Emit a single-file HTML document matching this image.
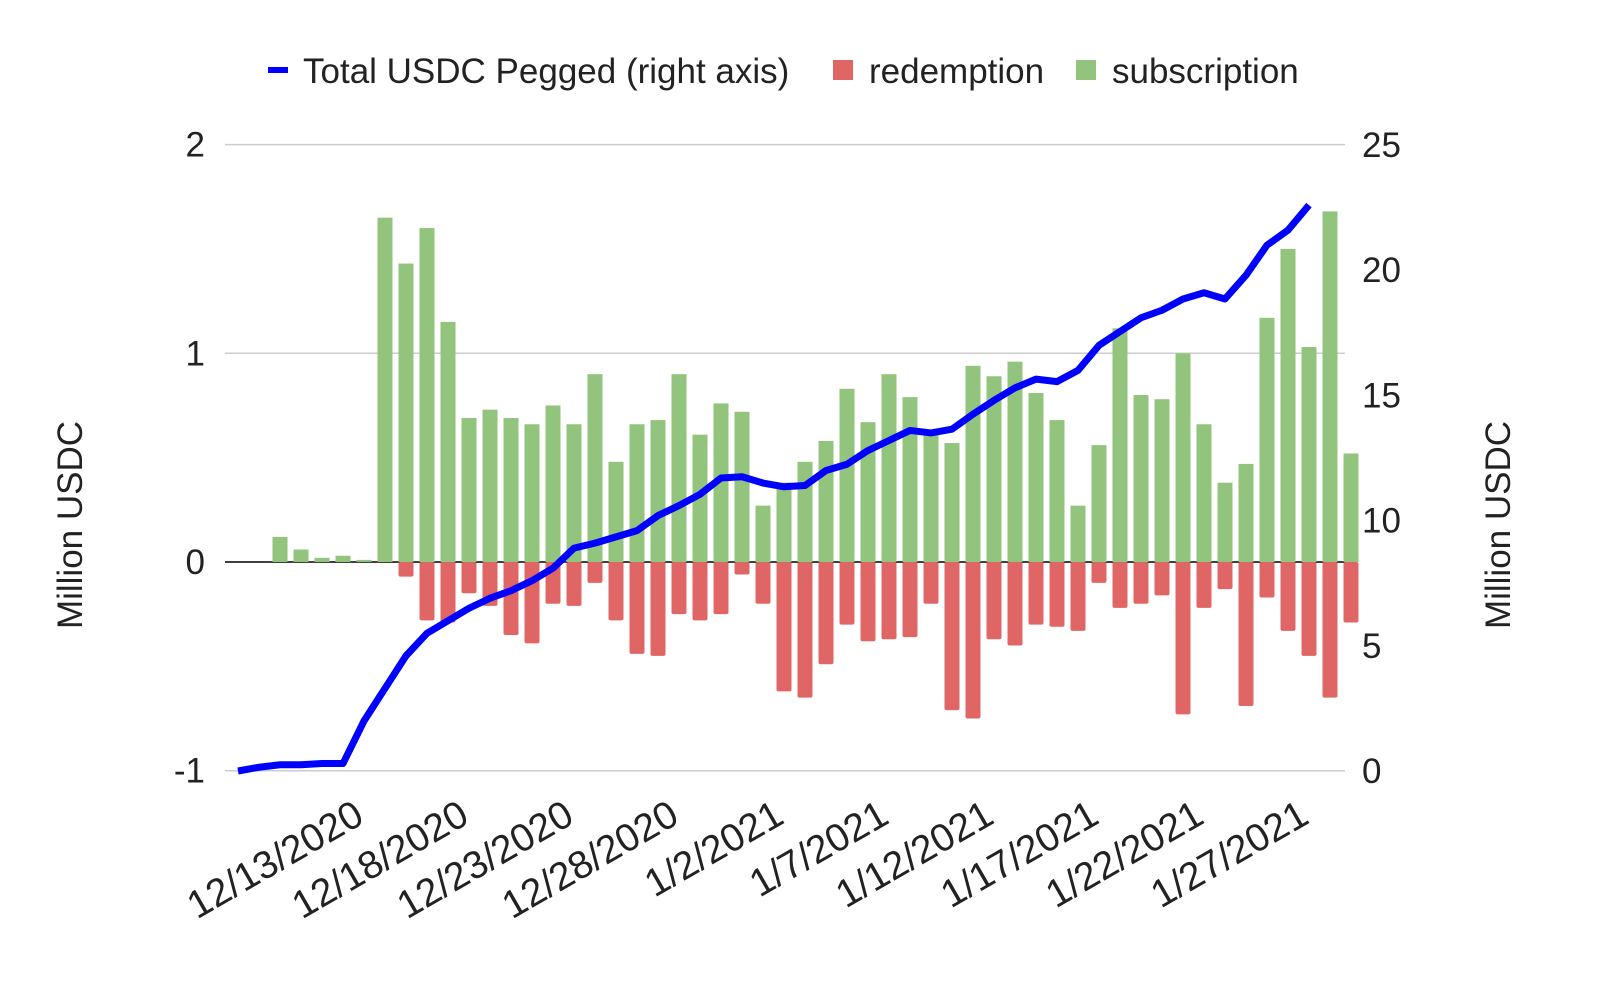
<!DOCTYPE html>
<html><head><meta charset="utf-8"><style>
html,body{margin:0;padding:0;background:#fff;}
svg{display:block;font-family:"Liberation Sans",Arial,sans-serif;}
</style></head><body>
<svg id="chart" width="1600" height="992" viewBox="0 0 1600 992" xmlns="http://www.w3.org/2000/svg">
<g>
  <rect x="268" y="67" width="20" height="6" fill="#0000ff"/>
  <text x="303" y="83" font-size="35" fill="#222">Total USDC Pegged (right axis)</text>
  <rect x="833" y="60" width="20" height="20" fill="#e06666"/>
  <text x="869" y="83" font-size="35" fill="#222">redemption</text>
  <rect x="1076" y="60" width="20" height="20" fill="#93c47d"/>
  <text x="1112" y="83" font-size="35" fill="#222">subscription</text>
</g>
<text transform="translate(82,525) rotate(-90)" text-anchor="middle" font-size="35" fill="#222">Million USDC</text>
<text transform="translate(1510,525) rotate(-90)" text-anchor="middle" font-size="35" fill="#222">Million USDC</text>
<g id="grid"></g><g id="bars"></g><g id="line"></g><g id="axes"></g>
</svg>
<script>
const dates = [];
(function(){const d0=new Date(2020,11,7);for(let i=0;i<54;i++){const d=new Date(d0.getTime());d.setDate(d0.getDate()+i);dates.push((d.getMonth()+1)+'/'+d.getDate()+'/'+d.getFullYear());}})();
const subscription = [0,0.12,0.06,0.02,0.03,0.01,1.65,1.43,1.6,1.15,0.69,0.73,0.69,0.66,0.75,0.66,0.9,0.48,0.66,0.68,0.9,0.61,0.76,0.72,0.27,0.38,0.48,0.58,0.83,0.67,0.9,0.79,0.62,0.57,0.94,0.89,0.96,0.81,0.68,0.27,0.56,1.12,0.8,0.78,1.0,0.66,0.38,0.47,1.17,1.5,1.03,1.68,0.52];
const redemption = [0,0,0,0,0,0,0,-0.07,-0.28,-0.29,-0.15,-0.21,-0.35,-0.39,-0.2,-0.21,-0.1,-0.28,-0.44,-0.45,-0.25,-0.28,-0.25,-0.06,-0.2,-0.62,-0.65,-0.49,-0.3,-0.38,-0.37,-0.36,-0.2,-0.71,-0.75,-0.37,-0.4,-0.3,-0.31,-0.33,-0.1,-0.22,-0.2,-0.16,-0.73,-0.22,-0.13,-0.69,-0.17,-0.33,-0.45,-0.65,-0.29];
const totalPegged = [0,0.15,0.25,0.25,0.3,0.3,2.0,3.3,4.6,5.5,6.0,6.5,6.9,7.2,7.6,8.1,8.9,9.1,9.35,9.6,10.2,10.6,11.05,11.7,11.75,11.5,11.35,11.4,12.0,12.25,12.8,13.2,13.6,13.5,13.65,14.25,14.8,15.3,15.65,15.55,16.0,17.0,17.55,18.1,18.4,18.85,19.1,18.85,19.8,21.0,21.6,22.6];
const leftTicks = [-1,0,1,2];
const rightTicks = [0,5,10,15,20,25];
const labelIdx = [6,11,16,21,26,31,36,41,46,51];

const NS='http://www.w3.org/2000/svg';
const X0=238, STEP=21, PL=225, PR=1345;
const xS=i=>X0+i*STEP;
const yL=v=>562-v*208.7;
const yR=v=>771-v*25.04;
function mk(tag,attrs,parent){const e=document.createElementNS(NS,tag);for(const k in attrs)e.setAttribute(k,attrs[k]);parent.appendChild(e);return e;}
const grid=document.getElementById('grid'),bars=document.getElementById('bars'),line=document.getElementById('line'),axes=document.getElementById('axes');

leftTicks.forEach(v=>{
  if(v!==0){const g=mk('line',{x1:PL,x2:PR,y1:yL(v),y2:yL(v),stroke:'#cccccc','stroke-width':1.5},grid);
  
  }
  const t=mk('text',{x:205,y:yL(v)+12,'text-anchor':'end','font-size':35,fill:'#222'},axes);
  t.textContent=String(v);
  
  
});
rightTicks.forEach(v=>{
  const t=mk('text',{x:1362,y:yR(v)+12,'text-anchor':'start','font-size':35,fill:'#222'},axes);
  t.textContent=String(v);
  
  
});
subscription.forEach((v,k)=>{const i=k+1;if(v<=0)return;
  const r=mk('rect',{x:xS(i)-7.5,y:yL(v),width:15,height:yL(0)-yL(v),fill:'#93c47d'},bars);
  
  
});
redemption.forEach((v,k)=>{const i=k+1;if(v>=0)return;
  const r=mk('rect',{x:xS(i)-7.5,y:yL(0),width:15,height:yL(v)-yL(0),fill:'#e06666',rx:2},bars);
  
  
});
const zl=mk('line',{x1:PL,x2:PR,y1:yL(0),y2:yL(0),stroke:'#000','stroke-width':1.5},grid);


const pts=totalPegged.map((v,i)=>xS(i)+','+yR(v)).join(' ');
const pl=mk('polyline',{points:pts,fill:'none',stroke:'#0000ff','stroke-width':7,'stroke-linejoin':'round'},line);


labelIdx.forEach(i=>{
  const x=xS(i)+2,y=822;
  const t=mk('text',{x:x,y:y,'text-anchor':'end','font-size':39,fill:'#222',transform:'rotate(-30 '+x+' '+y+')'},axes);
  t.textContent=dates[i];
  
  
});
</script>
</body></html>
